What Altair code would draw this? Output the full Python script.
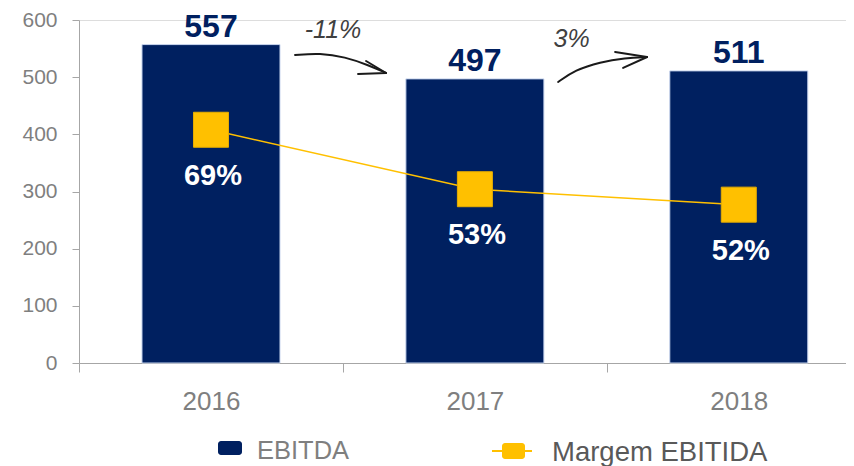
import altair as alt
import pandas as pd

# ---- data ----
anos = ["2016", "2017", "2018"]
ebitda = [557, 497, 511]
margem_pct = [69, 53, 52]
# marker height of the margin series, read against the left axis (hidden secondary axis)
margem_nivel = [408, 304, 277]

# growth annotations (x in category-index units, y in axis units)
variacao_txt = ["-11%", "3%"]
variacao_x = [0.4615, 1.3653]
variacao_y = [568.5, 552.8]

seta1_x = [0.3176, 0.4123, 0.507, 0.5942, 0.6624]
seta1_y = [538.8, 542.3, 535.3, 521.3, 507.3]
ponta1_x = [0.5866, 0.6624, 0.5563]
ponta1_y = [528.3, 507.3, 505.5]

seta2_x = [1.3142, 1.3786, 1.4733, 1.5681, 1.6514]
seta2_y = [491.5, 512.5, 526.5, 533.5, 535.3]
ponta2_x = [1.5302, 1.6514, 1.5605]
ponta2_y = [544.0, 535.3, 516.3]

NAVY = "#002060"
GOLD = "#FFC000"
GRAY = "#7f7f7f"
FONT = "Liberation Sans"

df = pd.DataFrame({
    "ano": anos,
    "ebitda": ebitda,
    "margem": margem_nivel,
    "rotulo": [f"{v}%" for v in margem_pct],
})

arrows = []
for i, (xs, ys) in enumerate([(seta1_x, seta1_y), (seta2_x, seta2_y)]):
    for j, (a, b) in enumerate(zip(xs, ys)):
        arrows.append({"g": f"s{i}", "o": j, "x": a, "y": b})
heads = []
for i, (xs, ys) in enumerate([(ponta1_x, ponta1_y), (ponta2_x, ponta2_y)]):
    for j, (a, b) in enumerate(zip(xs, ys)):
        heads.append({"g": f"h{i}", "o": j, "x": a, "y": b})
df_arrows = pd.DataFrame(arrows)
df_heads = pd.DataFrame(heads)
df_var = pd.DataFrame({"x": variacao_x, "y": variacao_y, "t": variacao_txt})

yscale = alt.Scale(domain=[0, 600], nice=False)
xband = alt.X(
    "ano:N",
    sort=anos,
    scale=alt.Scale(paddingInner=0.477, paddingOuter=0.1917, align=0.6225),
    axis=alt.Axis(
        title=None, labelAngle=0, labelFontSize=26, labelColor=GRAY, labelFont=FONT,
        tickOffset=-132, labelOffset=132, tickSize=9, tickColor="#a6a6a6",
        domainColor="#a6a6a6", labelPadding=16, grid=False,
    ),
)
yaxis = alt.Y(
    "ebitda:Q",
    scale=yscale,
    axis=alt.Axis(
        title=None, values=[0, 100, 200, 300, 400, 500, 600], labelFontSize=21,
        labelColor=GRAY, labelFont=FONT, tickSize=7, tickColor="#a6a6a6",
        domainColor="#a6a6a6", labelPadding=15, grid=False,
    ),
)

base = alt.Chart(df)
bars = base.mark_bar(color=NAVY, stroke="#c9d6ee", strokeWidth=1).encode(x=xband, y=yaxis)
bar_lbl = base.mark_text(
    color=NAVY, font=FONT, fontWeight="bold", fontSize=32, baseline="alphabetic", dy=-8
).encode(x=xband, y=alt.Y("ebitda:Q", scale=yscale), text="ebitda:Q")
line = base.mark_line(color=GOLD, strokeWidth=1.5).encode(
    x=xband, y=alt.Y("margem:Q", scale=yscale)
)
pts = base.mark_point(
    shape="square", size=1225, filled=True, color=GOLD, opacity=1,
    stroke="#e6ad00", strokeWidth=1,
).encode(x=xband, y=alt.Y("margem:Q", scale=yscale))
pct_lbl = base.mark_text(
    color="white", font=FONT, fontWeight="bold", fontSize=29, baseline="middle", dy=46, dx=2
).encode(x=xband, y=alt.Y("margem:Q", scale=yscale), text="rotulo:N")

xq = alt.Scale(domain=[-0.501, 2.405], nice=False, zero=False)
shafts = alt.Chart(df_arrows).mark_line(
    color="#1a1a1a", strokeWidth=2, interpolate="basis", strokeCap="round"
).encode(
    x=alt.X("x:Q", scale=xq, axis=None),
    y=alt.Y("y:Q", scale=yscale),
    detail="g:N", order="o:Q",
)
tips = alt.Chart(df_heads).mark_line(
    color="#1a1a1a", strokeWidth=2, strokeCap="round", strokeJoin="round"
).encode(
    x=alt.X("x:Q", scale=xq, axis=None),
    y=alt.Y("y:Q", scale=yscale),
    detail="g:N", order="o:Q",
)
var_txt = alt.Chart(df_var).mark_text(
    font=FONT, fontStyle="italic", fontSize=25, color="#404040", baseline="alphabetic"
).encode(
    x=alt.X("x:Q", scale=xq, axis=None),
    y=alt.Y("y:Q", scale=yscale),
    text="t:N",
)

one = pd.DataFrame({"k": [0]})
leg_rect = alt.Chart(one).mark_rect(color=NAVY, cornerRadius=3).encode(
    x=alt.value(139), x2=alt.value(163), y=alt.value(421), y2=alt.value(435)
)
leg_txt1 = alt.Chart(one).mark_text(
    text="EBITDA", font=FONT, fontSize=25.5, color=GRAY, align="left", baseline="alphabetic"
).encode(x=alt.value(178), y=alt.value(439))
leg_line = alt.Chart(one).mark_rule(color=GOLD, strokeWidth=2).encode(
    x=alt.value(413), x2=alt.value(453), y=alt.value(431)
)
leg_sq = alt.Chart(one).mark_rect(color=GOLD, cornerRadius=3).encode(
    x=alt.value(423), x2=alt.value(446), y=alt.value(423), y2=alt.value(439)
)
leg_txt2 = alt.Chart(one).mark_text(
    text="Margem EBITIDA", font=FONT, fontSize=27.5, color="#595959", align="left",
    baseline="alphabetic",
).encode(x=alt.value(473), y=alt.value(441))

main = alt.layer(bars, bar_lbl, line, pts, pct_lbl)
annot = alt.layer(shafts, tips, var_txt)

chart = alt.layer(
    main, annot, leg_rect, leg_txt1, leg_line, leg_sq, leg_txt2
).resolve_scale(x="independent").properties(
    width=767, height=343,
    autosize=alt.AutoSizeParams(type="none"),
    padding={"left": 71, "top": 12, "right": 0, "bottom": 110},
).configure_view(stroke=None).configure(background="white")

chart.save("out.html", embed_options={"renderer": "svg", "actions": False})
